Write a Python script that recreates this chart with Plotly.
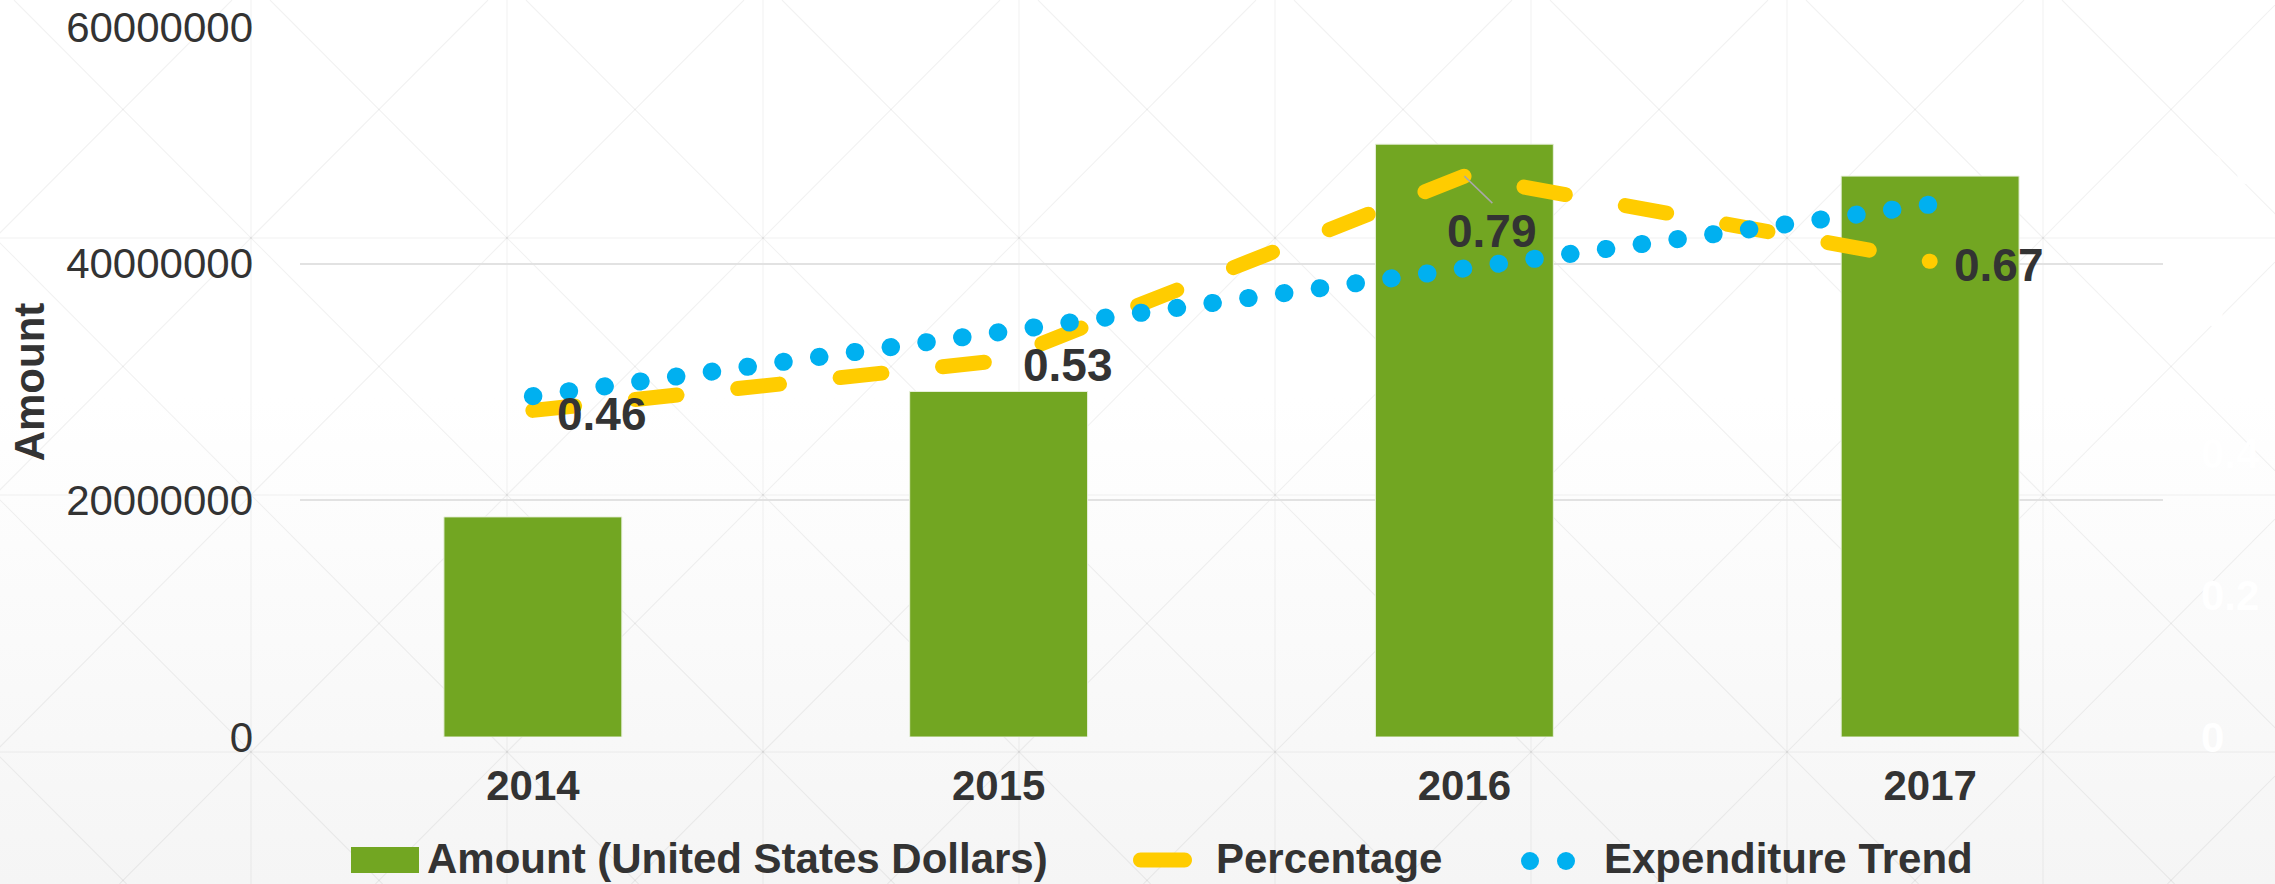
import base64
import plotly.graph_objects as go

# ---------------- data ----------------
years = ["2014", "2015", "2016", "2017"]
amount_usd = [18600000, 29200000, 50100000, 47400000]
percentage = [0.46, 0.53, 0.79, 0.67]
expenditure_trend = [0.48, 0.57, 0.66, 0.75]
pct_labels = ["0.46", "0.53", "0.79", "0.67"]

left_ticks = [0, 20000000, 40000000, 60000000]
right_ticks = [0, 0.2, 0.4, 0.6, 0.8, 1]

legend_names = ["Amount (United States Dollars)", "Percentage", "Expenditure Trend"]

# ---------------- style ----------------
W, H = 2275, 884
L, R, T, B = 300, 112, 27, 147
PW, PH = W - L - R, H - T - B

GREEN = "#72A622"
YELLOW = "#FFCC00"
BLUE = "#00B0F0"
TEXT = "#333333"
FONT = "Liberation Sans, Arial, sans-serif"


def px2x(px):
    return (px - L) / PW


def px2y(py):
    return (H - B - py) / PH


def background_svg():
    parts = []
    for k in range(-1, 10):
        x = -5 + 256 * k
        parts.append(f'<line x1="{x}" y1="0" x2="{x}" y2="{H}"/>')
    for k in range(0, 5):
        y = -19 + 257 * k
        parts.append(f'<line x1="0" y1="{y}" x2="{W}" y2="{y}"/>')
    dx = H * 256 / 257
    for k in range(-6, 10):
        c = 14 + 256 * k
        parts.append(f'<line x1="{c}" y1="0" x2="{c + dx:.1f}" y2="{H}"/>')
    for k in range(0, 14):
        c = 232 + 256 * k
        parts.append(f'<line x1="{c}" y1="0" x2="{c - dx:.1f}" y2="{H}"/>')
    svg = (
        f'<svg xmlns="http://www.w3.org/2000/svg" width="{W}" height="{H}" viewBox="0 0 {W} {H}">'
        '<defs><linearGradient id="g" x1="0" y1="0" x2="0" y2="1">'
        '<stop offset="0" stop-color="#ffffff"/><stop offset="0.45" stop-color="#ffffff"/>'
        '<stop offset="1" stop-color="#f5f5f5"/></linearGradient></defs>'
        f'<rect width="{W}" height="{H}" fill="url(#g)"/>'
        '<g stroke="#000000" stroke-opacity="0.055" stroke-width="1.1" fill="none">'
        + "".join(parts) + "</g></svg>"
    )
    return "data:image/svg+xml;base64," + base64.b64encode(svg.encode()).decode()


fig = go.Figure()

fig.add_trace(go.Bar(
    x=years, y=amount_usd, name=legend_names[0],
    marker=dict(color=GREEN, line=dict(color="#e8f0dc", width=1)),
    showlegend=False, yaxis="y",
))
fig.add_trace(go.Scatter(
    x=years, y=percentage, name=legend_names[1], mode="lines",
    line=dict(color=YELLOW, width=15, dash="42px,61px"),
    showlegend=False, yaxis="y2",
))
fig.add_trace(go.Scatter(
    x=years, y=expenditure_trend, name=legend_names[2], mode="lines",
    line=dict(color=BLUE, width=18, dash="0.5px,35.6px"),
    showlegend=False, yaxis="y2",
))

label_font = dict(family=FONT, size=46, color=TEXT, weight="bold")
annotations = []
for i, (v, lab) in enumerate(zip(percentage, pct_labels)):
    if v == max(percentage):
        annotations.append(dict(
            x=i, y=v, xref="x", yref="y2", text=lab, showarrow=True,
            arrowhead=0, arrowwidth=1.5, arrowcolor="#a8a8a8", standoff=0,
            ax=28, ay=27, xanchor="center", yanchor="top", font=label_font,
        ))
    else:
        annotations.append(dict(
            x=i, y=v, xref="x", yref="y2", text=lab, showarrow=False,
            xanchor="left", yanchor="middle", xshift=22, yshift=-4, font=label_font,
        ))

# custom legend
leg_font = dict(family=FONT, size=42, color=TEXT, weight="bold")
leg_y = px2y(883)
annotations += [
    dict(x=px2x(426), y=leg_y, xref="paper", yref="paper", text=legend_names[0],
         showarrow=False, xanchor="left", yanchor="bottom", borderpad=0, font=leg_font),
    dict(x=px2x(1215), y=leg_y, xref="paper", yref="paper", text=legend_names[1],
         showarrow=False, xanchor="left", yanchor="bottom", borderpad=0, font=leg_font),
    dict(x=px2x(1603), y=leg_y, xref="paper", yref="paper", text=legend_names[2],
         showarrow=False, xanchor="left", yanchor="bottom", borderpad=0, font=leg_font),
]

capsule = ("M-22,-7.5 L22,-7.5 C26.1,-7.5 29.5,-4.1 29.5,0 C29.5,4.1 26.1,7.5 22,7.5 "
           "L-22,7.5 C-26.1,7.5 -29.5,4.1 -29.5,0 C-29.5,-4.1 -26.1,-7.5 -22,-7.5 Z")
shapes = [
    dict(type="rect", xref="paper", yref="paper", x0=px2x(351), x1=px2x(419),
         y0=px2y(873), y1=px2y(847), fillcolor=GREEN, line=dict(width=0)),
    dict(type="path", xref="paper", yref="paper", xsizemode="pixel", ysizemode="pixel",
         xanchor=px2x(1162.5), yanchor=px2y(860), path=capsule,
         fillcolor=YELLOW, line=dict(width=0)),
    dict(type="circle", xref="paper", yref="paper", xsizemode="pixel", ysizemode="pixel",
         xanchor=px2x(1530), yanchor=px2y(861), x0=-9, x1=9, y0=-9, y1=9,
         fillcolor=BLUE, line=dict(width=0)),
    dict(type="circle", xref="paper", yref="paper", xsizemode="pixel", ysizemode="pixel",
         xanchor=px2x(1566), yanchor=px2y(861), x0=-9, x1=9, y0=-9, y1=9,
         fillcolor=BLUE, line=dict(width=0)),
]

fig.update_layout(
    width=W, height=H,
    margin=dict(l=L, r=R, t=T, b=B, autoexpand=False),
    paper_bgcolor="#ffffff", plot_bgcolor="rgba(0,0,0,0)",
    font=dict(family=FONT, color=TEXT),
    bargap=0.618,
    showlegend=False,
    annotations=annotations,
    shapes=shapes,
    images=[dict(
        source=background_svg(), xref="paper", yref="paper",
        x=-L / PW, y=1 + T / PH, sizex=W / PW, sizey=H / PH,
        xanchor="left", yanchor="top", sizing="stretch", layer="below",
    )],
    xaxis=dict(
        type="category", categoryorder="array", categoryarray=years,
        range=[-0.5, len(years) - 0.5],
        showgrid=False, zeroline=False, showline=False,
        tickfont=dict(family=FONT, size=42, color=TEXT, weight="bold"),
        ticklabelstandoff=20, automargin=False,
    ),
    yaxis=dict(
        range=[0, 60000000], tickvals=left_ticks, ticktext=[str(v) for v in left_ticks],
        showgrid=True, gridcolor="#e2e2e2", gridwidth=2, zeroline=False, showline=False,
        tickfont=dict(family=FONT, size=42, color=TEXT),
        ticklabelstandoff=46, automargin=False,
        title=dict(text="Amount", font=dict(family=FONT, size=42, color=TEXT, weight="bold"),
                   standoff=8),
    ),
    yaxis2=dict(
        range=[0, 1], tickvals=right_ticks, overlaying="y", side="right",
        showgrid=False, zeroline=False, showline=False,
        tickfont=dict(family=FONT, size=42, color="#ffffff", weight="bold"),
        ticklabelstandoff=37, automargin=False,
    ),
)

post = """
document.body.style.margin = '0';
document.body.style.overflow = 'hidden';
var gd = document.getElementById('{plot_id}');
function fixCaps(){
  gd.querySelectorAll('.scatterlayer path.js-line').forEach(function(p){
    p.style.strokeLinecap = 'round';
    p.style.strokeLinejoin = 'round';
  });
}
fixCaps();
gd.on('plotly_afterplot', fixCaps);
"""

fig.write_html("out.html", post_script=post, config={"displayModeBar": False})
